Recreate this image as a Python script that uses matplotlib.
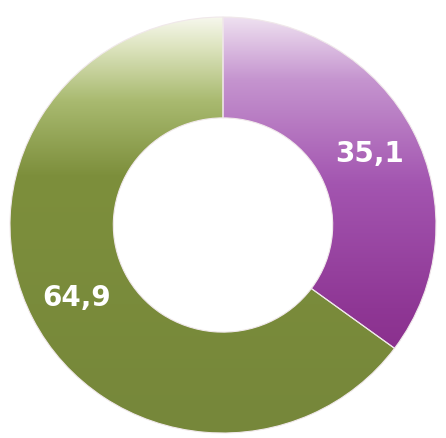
import numpy as np
import matplotlib.pyplot as plt
from matplotlib.colors import LinearSegmentedColormap

# 데이터
labels = ['B', 'A']
values = [35.1, 64.9]

# 색상 (위쪽은 밝게, 아래쪽은 진하게)
grad_colors = [
    [(0.0, '#82237f'), (0.3, '#8f3795'), (0.6, '#a355b0'), (0.85, '#c594cf'), (1.0, '#eee0f0')],
    [(0.0, '#76873a'), (0.62, '#7d8f3c'), (0.8, '#a9ba70'), (0.93, '#dde4bf'), (1.0, '#f6f7ec')],
]

fig = plt.figure(figsize=(4.46, 4.39), dpi=100)
ax = fig.add_axes([0, 0, 1, 1])

wedges, texts, autotexts = ax.pie(
    values, startangle=90, counterclock=False, radius=1.0,
    wedgeprops=dict(width=0.485, edgecolor='#f0e8ea', linewidth=0.8),
    autopct=lambda p: f'{p:.1f}'.replace('.', ','), pctdistance=0.77,
    textprops=dict(color='white', fontsize=20, fontweight='bold'))

# 그라데이션 채우기
grad = np.linspace(0, 1, 256).reshape(-1, 1)
for w, stops in zip(wedges, grad_colors):
    cmap = LinearSegmentedColormap.from_list('g', stops)
    w.set_facecolor('none')
    im = ax.imshow(grad, cmap=cmap, origin='lower', extent=[-1, 1, -1, 1],
                   aspect='auto', zorder=0.5, interpolation='bilinear')
    im.set_clip_path(w)

for t in autotexts:
    t.set_zorder(5)

ax.set_aspect('auto')
ax.set_xlim(-223 / 213, 223 / 213)
ax.set_ylim(-213 / 208, 226 / 208)
ax.axis('off')

plt.savefig('out.png', format='png', dpi=100)
